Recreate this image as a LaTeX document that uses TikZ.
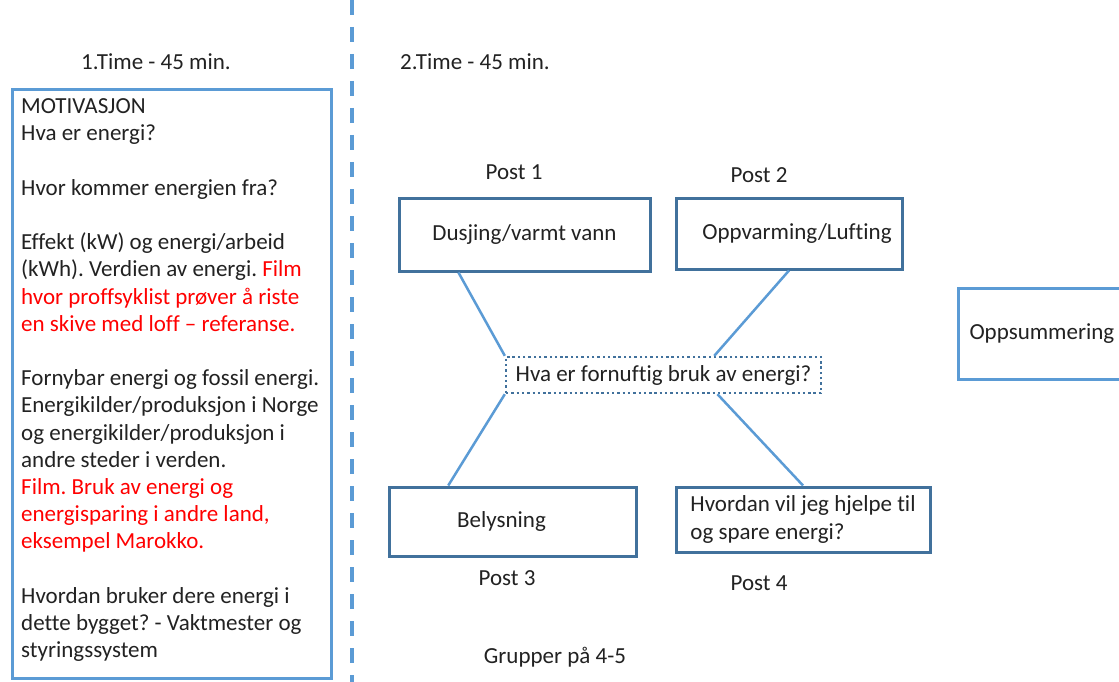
\documentclass[tikz,border=0pt]{standalone}
\usepackage{fontspec}
\setmainfont{Carlito}[Ligatures=NoCommon]
\usetikzlibrary{calc}
\definecolor{lblue}{HTML}{5B9BD5}
\definecolor{dblue}{HTML}{41719C}
\definecolor{txt}{HTML}{222222}
\definecolor{filmred}{HTML}{FF0000}
\frenchspacing
\begin{document}
\begin{tikzpicture}[x=1pt,y=-1pt, font=\fontsize{23}{27.2}\selectfont\frenchspacing, text=txt,
  darkbox/.style={draw=dblue, line width=3pt, inner sep=0pt},
  lightbox/.style={draw=lblue, line width=3pt},
  link/.style={draw=lblue, line width=2.5pt},
  lbl/.style={inner sep=0pt},
  divider/.style={draw=lblue, line width=4pt, dash pattern=on 15pt off 12pt}]
\useasboundingbox (0,0) rectangle (1119,682);
\fill[white] (0,0) rectangle (1119,682);

% headings
\node[lbl] (t1) at (156,62) {1.Time - 45 min.};
\node[lbl, anchor=west] (t2) at (400,62) {2.Time - 45 min.};

% divider
\coordinate (dtop) at (352,0);
\coordinate (dbot) at (352,682);
\draw[divider] (dtop) -- (dbot);

% left box
\node[lightbox, minimum width=319pt, minimum height=589pt, anchor=north west, inner sep=0pt] (mot) at (11,88) {};
\node[anchor=north west, inner sep=0pt, align=left] (motxt) at (21,98.5) {MOTIVASJON\\
Hva er energi?\\[27.2pt]
Hvor kommer energien fra?\\[27.2pt]
Effekt (kW) og energi/arbeid\\
(kWh). Verdien av energi. \textcolor{filmred}{Film}\\
\textcolor{filmred}{hvor proffsyklist prøver å riste}\\
\textcolor{filmred}{en skive med loff – referanse.}\\[27.2pt]
Fornybar energi og fossil energi.\\
Energikilder/produksjon i Norge\\
og energikilder/produksjon i\\
andre steder i verden.\\
\textcolor{filmred}{Film. Bruk av energi og}\\
\textcolor{filmred}{energisparing i andre land,}\\
\textcolor{filmred}{eksempel Marokko.}\\[27.2pt]
Hvordan bruker dere energi i\\
dette bygget? - Vaktmester og\\
styringssystem};

% right side boxes
\node[darkbox, minimum width=251pt, minimum height=73pt] (dus) at (524.5,234.5) {Dusjing/varmt vann};
\node[darkbox, minimum width=226pt, minimum height=71pt] (opp) at (789,233.5) {\hspace{16pt}Oppvarming/Lufting};
\node[darkbox, minimum width=247pt, minimum height=69pt] (bel) at (512.5,521.5) {Belysning\hspace{22pt}\mbox{}};
\node[darkbox, minimum width=254pt, minimum height=65pt, align=left] (hvo) at (803,519.5) {Hvordan vil jeg hjelpe til\\og spare energi?};
\node[draw=dblue, line width=2.4pt, dash pattern=on 2.4pt off 2.9pt, minimum width=315pt, minimum height=36pt, inner sep=0pt] (cq) at (663.5,375) {Hva er fornuftig bruk av energi?};
\node[lightbox, anchor=north west, minimum height=91pt, text width=160pt, inner xsep=11pt, inner ysep=0pt, align=left] (oppsum) at (957,287) {Oppsummering};

% labels
\node[lbl] (p1) at (514,172) {Post 1};
\node[lbl] (p2) at (759,175) {Post 2};
\node[lbl] (p3) at (507,578) {Post 3};
\node[lbl] (p4) at (759,583) {Post 4};
\node[lbl] (grp) at (555,657) {Grupper på 4-5};

% connectors
\draw[link] ($(dus.south west)!0.24!(dus.south east)$) -- (cq.north west);
\draw[link] (opp.south) -- ($(cq.north west)!0.66!(cq.north east)$);
\draw[link] (cq.south west) -- ($(bel.north west)!0.243!(bel.north east)$);
\draw[link] ($(cq.south west)!0.67!(cq.south east)$) -- (hvo.north);
\end{tikzpicture}
\end{document}
